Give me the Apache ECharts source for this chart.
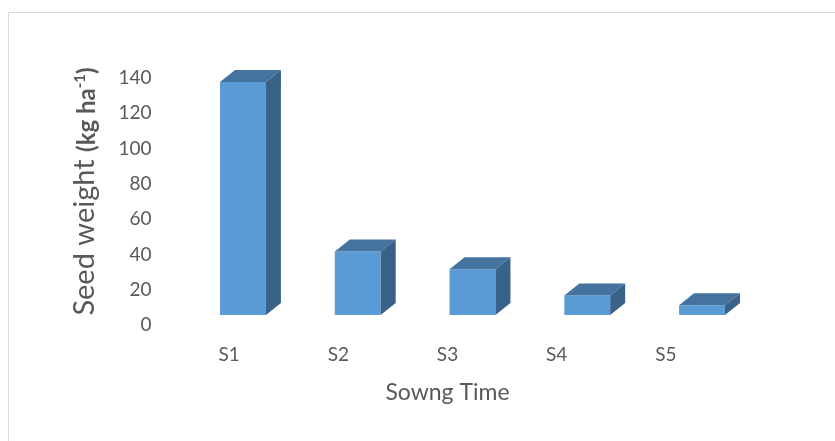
<!DOCTYPE html>
<html><head><meta charset="utf-8">
<script src="https://cdn.jsdelivr.net/npm/echarts@6/dist/echarts.min.js"></script>
<style>html,body{margin:0;padding:0;background:#fff}#c{width:835px;height:441px}</style>
</head><body><div id="c"></div>
<script>
const categories = ['S1', 'S2', 'S3', 'S4', 'S5'];
const seedWeight = [132, 36, 26, 11, 5.5];
const yTicks = { min: 0, max: 140, interval: 20 };

const FRONT = '#5b9bd5', TOP = '#4573a0', SIDE = '#3a6289';
const FONT = 'Lato';
const chart = echarts.init(document.getElementById('c'));
chart.setOption({
  animation: false,
  backgroundColor: '#fff',
  graphic: [{ type: 'rect', shape: { x: 8.5, y: 12.5, width: 900, height: 500 }, style: { fill: 'none', stroke: '#d9d9d9', lineWidth: 1 }, silent: true }],
  grid: [
    { left: 174.5, right: 114.5, top: 78, bottom: 116 },
    { left: 185.6, right: 75.6, top: 68, bottom: 126 }
  ],
  xAxis: [
    { gridIndex: 0, type: 'category', data: categories,
      axisLine: { show: false }, axisTick: { show: false },
      axisLabel: { color: '#595959', fontSize: 19, fontFamily: FONT, margin: 20 },
      name: 'Sowng Time', nameLocation: 'middle', nameGap: 56,
      nameTextStyle: { color: '#595959', fontSize: 23, fontFamily: FONT } },
    { gridIndex: 1, type: 'category', data: categories, show: false }
  ],
  yAxis: [
    { gridIndex: 0, type: 'value', min: yTicks.min, max: yTicks.max, interval: yTicks.interval,
      axisLine: { show: false }, axisTick: { show: false }, splitLine: { show: false },
      axisLabel: { color: '#595959', fontSize: 19, fontFamily: FONT, margin: 23 } },
    { gridIndex: 1, type: 'value', min: yTicks.min, max: yTicks.max, interval: yTicks.interval,
      axisLine: { show: false }, axisTick: { show: false }, splitLine: { show: false },
      axisLabel: { show: false },
      name: '{a|Seed weight }{b|(kg ha}{s|-1}{b|)}', nameLocation: 'middle', nameGap: 86, nameRotate: 90,
      nameTextStyle: { color: '#595959', fontFamily: FONT,
        rich: {
          a: { fontSize: 29, fontFamily: FONT, color: '#595959', verticalAlign: 'bottom' },
          b: { fontSize: 24, fontWeight: 'bold', fontFamily: FONT, color: '#595959', verticalAlign: 'bottom' },
          s: { fontSize: 15, fontWeight: 'bold', fontFamily: FONT, color: '#595959', verticalAlign: 'bottom', padding: [0, 0, 12, 0] }
        } } }
  ],
  series: [{
    type: 'custom', xAxisIndex: 1, yAxisIndex: 1,
    data: seedWeight.map((v, i) => [i, v]),
    encode: { x: 0, y: 1 },
    renderItem: function (params, api) {
      const idx = api.value(0), v = api.value(1);
      const top = api.coord([idx, v]);
      const base = api.coord([idx, 0]);
      const w = api.size([1, 0])[0] * 0.4;
      const x0 = top[0] - w / 2, x1 = top[0] + w / 2;
      const yt = top[1], yb = base[1];
      const dx = 15, dy = -12;
      return { type: 'group', children: [
        { type: 'polygon', shape: { points: [[x0, yt], [x1, yt], [x1, yb], [x0, yb]] }, style: { fill: FRONT } },
        { type: 'polygon', shape: { points: [[x0, yt], [x0 + dx, yt + dy], [x1 + dx, yt + dy], [x1, yt]] }, style: { fill: TOP } },
        { type: 'polygon', shape: { points: [[x1, yt], [x1 + dx, yt + dy], [x1 + dx, yb + dy], [x1, yb]] }, style: { fill: SIDE } }
      ] };
    }
  }]
});
</script></body></html>
